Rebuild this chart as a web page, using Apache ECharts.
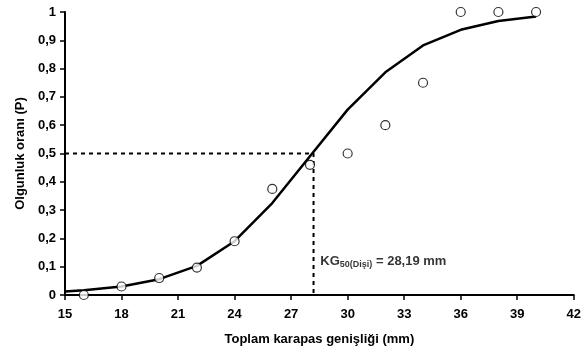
<!DOCTYPE html>
<html>
<head>
<meta charset="utf-8">
<script src="https://cdn.jsdelivr.net/npm/echarts@6/dist/echarts.min.js"></script>
<style>
  html, body { margin: 0; padding: 0; background: #fff; }
  #main { width: 584px; height: 351px; }
</style>
</head>
<body>
<div id="main"></div>
<script>
// gözlenen değerler (açık daireler)
var obsX = [16, 18, 20, 22, 24, 26, 28, 30, 32, 34, 36, 38, 40];
var obsY = [0, 0.03, 0.06, 0.097, 0.19, 0.375, 0.46, 0.5, 0.6, 0.75, 1, 1, 1];
// lojistik eğri
var fitX = [15, 16, 18, 20, 22, 24, 26, 28, 30, 32, 34, 36, 38, 40];
var fitY = [0.012, 0.017, 0.03, 0.056, 0.103, 0.19, 0.325, 0.49, 0.655, 0.787, 0.882, 0.937, 0.968, 0.984];
// KG50 kesikli çizgisi
var kgX = [15, 28.19, 28.19];
var kgY = [0.5, 0.5, 0];
var kgLabelPos = [28.55, 0.12];

var chart = echarts.init(document.getElementById('main'));

function pairs(xs, ys) {
  return xs.map(function (x, i) { return [x, ys[i]]; });
}
function comma(v) { return String(v).replace('.', ','); }

var ff = 'Liberation Sans, Arial, sans-serif';
var font = { fontFamily: ff, fontWeight: 'bold', fontSize: 13, color: '#000' };

var option = {
  animation: false,
  grid: { left: 65, right: 9, top: 12, bottom: 56 },
  xAxis: {
    type: 'value', min: 15, max: 42, interval: 3,
    name: 'Toplam karapas genişliği (mm)',
    nameLocation: 'middle', nameGap: 38,
    nameTextStyle: font,
    axisLine: { lineStyle: { color: '#000', width: 2 } },
    axisTick: { show: true, length: 5, lineStyle: { color: '#000', width: 1.5 } },
    axisLabel: Object.assign({ margin: 13 }, font),
    splitLine: { show: false }
  },
  yAxis: {
    type: 'value', min: 0, max: 1, interval: 0.1,
    name: 'Olgunluk oranı (P)',
    nameLocation: 'middle', nameGap: 33,
    nameTextStyle: font,
    axisLine: { show: true, lineStyle: { color: '#000', width: 2 } },
    axisTick: { show: true, length: 5, lineStyle: { color: '#000', width: 1.5 } },
    axisLabel: Object.assign({ margin: 9, formatter: function (v) { return comma(Math.round(v * 10) / 10); } }, font),
    splitLine: { show: false }
  },
  series: [
    {
      type: 'line',
      data: pairs(kgX, kgY),
      symbol: 'none',
      lineStyle: { color: '#000', width: 2, type: [4, 4] },
      z: 1
    },
    {
      type: 'line',
      data: pairs(fitX, fitY),
      symbol: 'none',
      lineStyle: { color: '#000', width: 2.5 },
      z: 2
    },
    {
      type: 'scatter',
      data: pairs(obsX, obsY),
      symbol: 'circle',
      symbolSize: 9,
      itemStyle: { color: '#fff', borderColor: '#000', borderWidth: 1.2 },
      z: 3
    },
    {
      type: 'scatter',
      data: [kgLabelPos],
      symbolSize: 0,
      silent: true,
      label: {
        show: true,
        position: 'right',
        distance: 0,
        formatter: '{a|KG}{s|50(Dişi)}{a| = 28,19 mm}',
        rich: {
          a: { fontFamily: ff, fontWeight: 'bold', fontSize: 13, color: '#000' },
          s: { fontFamily: ff, fontWeight: 'bold', fontSize: 9, color: '#000', verticalAlign: 'bottom', padding: [7, 0, 0, 0] }
        }
      }
    }
  ]
};

chart.setOption(option);
</script>
</body>
</html>
